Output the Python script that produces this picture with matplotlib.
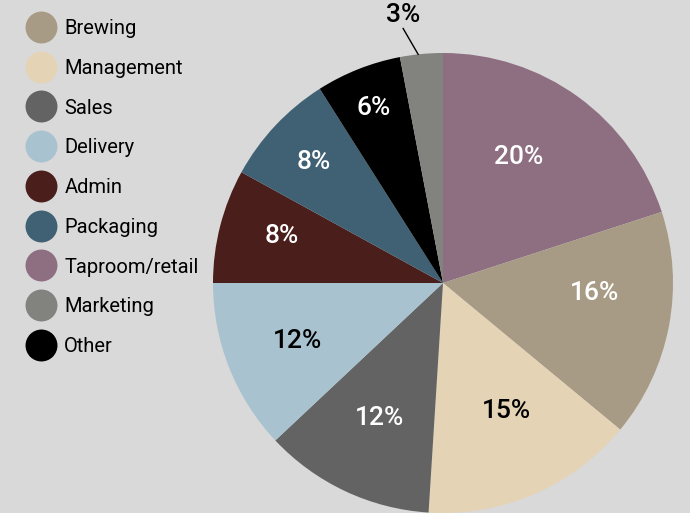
import numpy as np
import matplotlib
matplotlib.use("Agg")
import matplotlib.pyplot as plt
from matplotlib.lines import Line2D

plt.rcParams['font.family'] = ['Roboto', 'DejaVu Sans']

# slices, clockwise from 12 o'clock
labels = ['Taproom/retail', 'Brewing', 'Management', 'Sales', 'Delivery',
          'Admin', 'Packaging', 'Other', 'Marketing']
shares = [20, 16, 15, 12, 12, 8, 8, 6, 3]
colors = ['#8e6e81', '#a89b85', '#e5d3b5', '#636363', '#a9c2d0',
          '#4a1e1b', '#406173', '#000000', '#82827f']
text_colors = ['white', 'white', 'black', 'white', 'black',
               'white', 'white', 'white', 'black']
# label placement: radius (fraction of pie) and angular nudge (deg)
label_radius = [0.64, 0.66, 0.62, 0.65, 0.68, 0.73, 0.77, 0.82, 1.18]
label_shift = [5, 7, 3, 0, 0, -2, 0, 0, 3]

legend_order = ['Brewing', 'Management', 'Sales', 'Delivery', 'Admin',
                'Packaging', 'Taproom/retail', 'Marketing', 'Other']

bg = '#d9d9d9'
fig = plt.figure(figsize=(6.9, 5.13), dpi=100, facecolor=bg)
ax = fig.add_axes([213 / 690, 0, 460 / 690, 460 / 513])
ax.set_facecolor(bg)

wedges, _ = ax.pie(shares, colors=colors, startangle=90, counterclock=False,
                   radius=1.0, wedgeprops=dict(linewidth=0))

for w, s, tc, r, d in zip(wedges, shares, text_colors, label_radius, label_shift):
    mid = (w.theta1 + w.theta2) / 2
    a = np.deg2rad(mid + d)
    ax.text(r * np.cos(a), r * np.sin(a), f'{s}%', ha='center', va='center',
            color=tc, fontsize=19, fontweight='medium')
    if r > 1:
        a0, a1 = np.deg2rad(mid + 0.8), np.deg2rad(mid + 3.5)
        ax.plot([np.cos(a0), 1.12 * np.cos(a1)],
                [np.sin(a0), 1.12 * np.sin(a1)],
                color='black', lw=1, clip_on=False)

ax.set_xlim(-1, 1)
ax.set_ylim(-1, 1)
ax.set_aspect('equal')
ax.axis('off')

handles = [Line2D([], [], marker='o', linestyle='none', markersize=23,
                  markerfacecolor=colors[labels.index(l)], markeredgewidth=0)
           for l in legend_order]
fig.legend(handles, legend_order, loc='upper left',
           bbox_to_anchor=(19 / 690, 1 - 11 / 513), frameon=False,
           fontsize=14.5, labelspacing=1.03, handletextpad=0.45,
           handlelength=1.4, borderaxespad=0)

fig.savefig('out.png', dpi=100, facecolor=bg)
